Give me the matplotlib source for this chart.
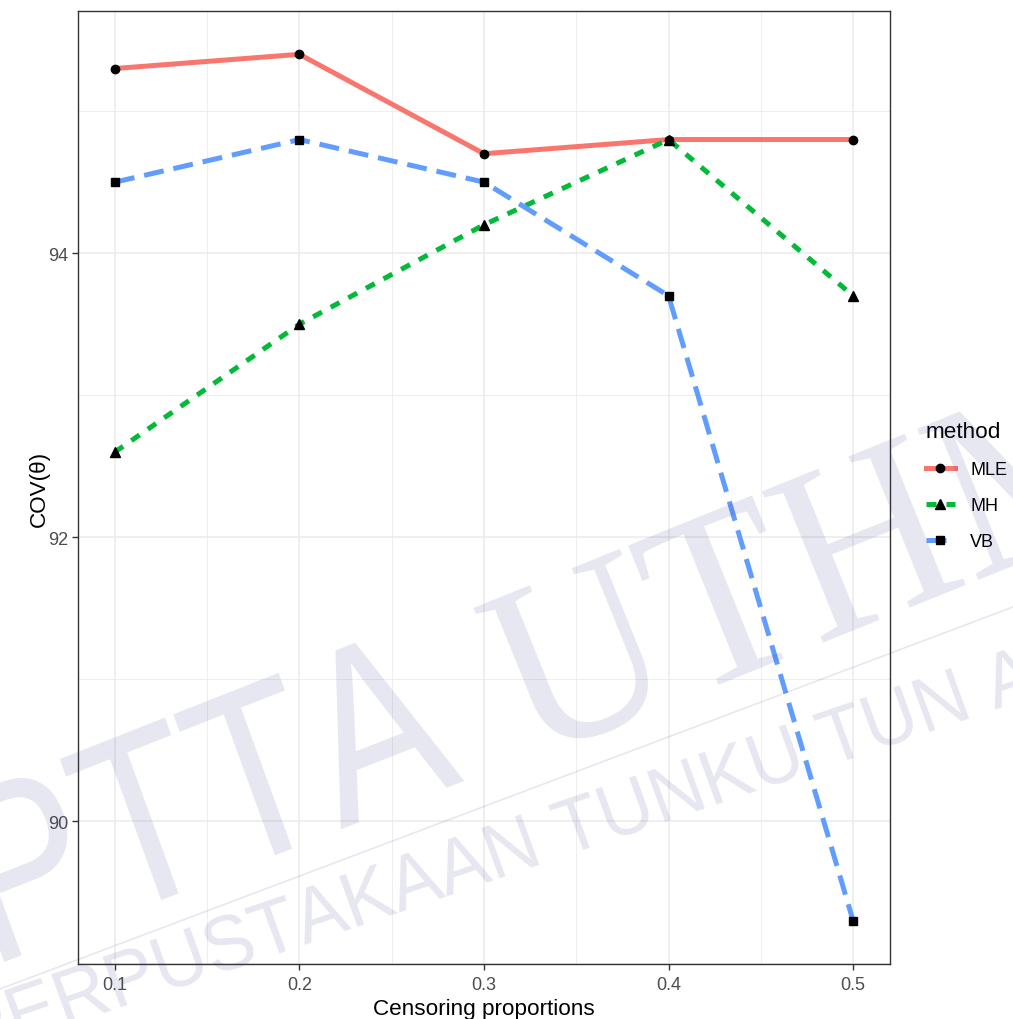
import numpy as np
import matplotlib
matplotlib.use("Agg")
import matplotlib.pyplot as plt
from matplotlib.lines import Line2D
from matplotlib.textpath import TextPath
from matplotlib.font_manager import FontProperties, findfont, get_font
from matplotlib.patches import PathPatch
from matplotlib.path import Path
from matplotlib.transforms import Affine2D

plt.rcParams['font.family'] = ['Liberation Sans', 'DejaVu Sans']

# ---- data ----
censoring = [0.1, 0.2, 0.3, 0.4, 0.5]
methods = ["MLE", "MH", "VB"]
mle = [95.3, 95.4, 94.7, 94.8, 94.8]
mh = [92.6, 93.5, 94.2, 94.8, 93.7]
vb = [94.5, 94.8, 94.5, 93.7, 89.3]
x_ticks = [0.1, 0.2, 0.3, 0.4, 0.5]
y_ticks = [90, 92, 94]

series = {"MLE": mle, "MH": mh, "VB": vb}
colors = {"MLE": "#F8766D", "MH": "#00BA38", "VB": "#619CFF"}
dashes = {"MLE": None, "MH": (2, 2), "VB": (4, 2)}
markers = {"MLE": "o", "MH": "^", "VB": "s"}
msize = {"MLE": 6.0, "MH": 6.8, "VB": 6.0}

W, H = 1013, 1020
fig = plt.figure(figsize=(W / 100, H / 100), dpi=100)
ax = fig.add_axes([78 / W, 55 / H, (890 - 78) / W, (965 - 12) / H])

grid_col = "#EBEBEB"
for xv in [0.15, 0.25, 0.35, 0.45]:
    ax.axvline(xv, color=grid_col, lw=0.6, zorder=0)
for yv in [89, 91, 93, 95]:
    ax.axhline(yv, color=grid_col, lw=0.6, zorder=0)
for xv in x_ticks:
    ax.axvline(xv, color=grid_col, lw=1.15, zorder=0)
for yv in y_ticks:
    ax.axhline(yv, color=grid_col, lw=1.15, zorder=0)

handles = []
for m in methods:
    ls = "-" if dashes[m] is None else (0, dashes[m])
    ax.plot(censoring, series[m], color=colors[m], lw=3.6, linestyle=ls,
            solid_capstyle="butt", dash_capstyle="butt", zorder=2)
    ax.plot(censoring, series[m], linestyle="none", marker=markers[m],
            color="black", markersize=msize[m], zorder=3)
    handles.append(Line2D([0], [0], color=colors[m], lw=3.6, linestyle=ls,
                          dash_capstyle="butt",
                          marker=markers[m], markerfacecolor="black",
                          markeredgecolor="black", markersize=msize[m]))

ax.set_xlim(0.08, 0.52)
ax.set_ylim(88.995, 95.705)
ax.set_xticks(x_ticks)
ax.set_xticklabels([str(v) for v in x_ticks])
ax.set_yticks(y_ticks)
ax.set_yticklabels([str(v) for v in y_ticks])
ax.tick_params(axis="both", length=4, width=1.0, color="#333333",
               labelcolor="#4D4D4D", labelsize=13, pad=3)
ax.tick_params(axis="x", pad=5)
for sp in ax.spines.values():
    sp.set_color("#333333")
    sp.set_linewidth(1.0)
ax.set_xlabel("Censoring proportions", fontsize=16.2, color="black", labelpad=3)
ax.set_ylabel("COV(\u03b8)", fontsize=16.2, color="black", labelpad=-1)

leg = fig.legend(handles, methods, title="method", loc="upper left",
                 bbox_to_anchor=(926 / W, 1 - 422 / H), frameon=False,
                 fontsize=13, title_fontsize=16.2, handlelength=1.6,
                 handletextpad=0.85, labelspacing=1.05, borderpad=0,
                 borderaxespad=0)
leg._legend_box.align = "left"

# ---- watermark ----
px = Affine2D().scale(1 / W, 1 / H) + fig.transFigure
wm_face = "#3C3C8C"
wm_alpha = 0.12


def char_advances(s, family):
    try:
        f = get_font(findfont(FontProperties(family=family)))
        f.set_size(100, 72)
        out = []
        for c in s:
            g = f.load_char(ord(c))
            out.append(g.linearHoriAdvance / 65536.0 / 100.0)
        return out
    except Exception:
        return [0.278 if c == " " else 0.68 for c in s]


def watermark(s, family, origin, ang_base, ang_up, adv, up, track=0.0):
    prop = FontProperties(family=family)
    advs = char_advances(s, family)
    verts, codes = [], []
    pos = 0.0
    for c, a in zip(s, advs):
        if c != " ":
            tp = TextPath((pos, 0), c, size=1, prop=prop)
            verts.append(tp.vertices)
            codes.append(tp.codes)
        pos += a + track
    path = Path(np.concatenate(verts), np.concatenate(codes))
    ab, au = np.radians(ang_base), np.radians(ang_up)
    M = np.array([[np.cos(ab) * adv, -np.sin(au) * up, origin[0]],
                  [np.sin(ab) * adv, np.cos(au) * up, origin[1]],
                  [0, 0, 1]])
    path = Affine2D(M).transform_path(path)
    fig.add_artist(PathPatch(path, transform=px, facecolor=wm_face,
                             edgecolor="none", alpha=wm_alpha, zorder=10))


watermark("PTTA", "Liberation Sans", (-11, 51), 21.5, 20, 200, 245)
watermark("UTHM", "Liberation Serif", (530, 258), 22, 22, 232, 249)
watermark("PERPUSTAKAAN TUNKU TUN AMINAH", "Liberation Sans", (-31, -40),
          18.8, 20, 75, 78)
fig.add_artist(Line2D([0, 1013], [30, 412], transform=px, color=wm_face,
                      alpha=wm_alpha, lw=1.2, zorder=10))

fig.savefig("out.png", dpi=100)
